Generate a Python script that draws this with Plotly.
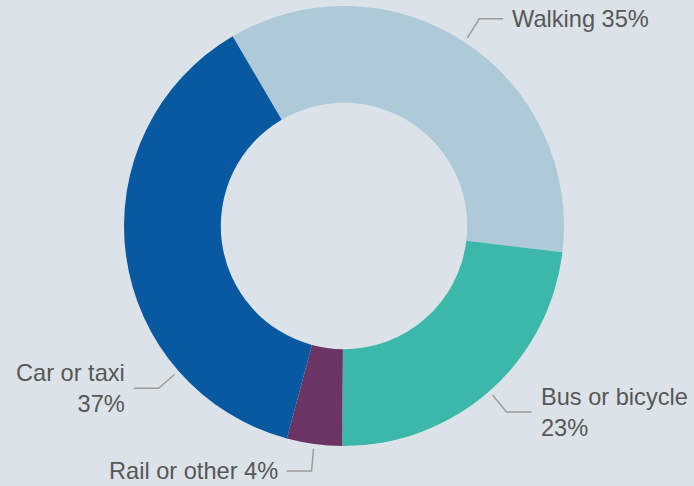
import math
import plotly.graph_objects as go

# Share of trips by main travel mode
modes = ["Walking", "Bus or bicycle", "Rail or other", "Car or taxi"]
shares = [35, 23, 4, 37]
colors = ["#aecad9", "#3bb8a9", "#6c3464", "#0959a0"]

# Canvas and donut geometry (pixels)
W, H = 694, 486
CX, CY, R = 344, 226, 220
HOLE = 0.56
START = -30.4          # first slice starts this many degrees from 12 o'clock
BG = "#dce3e8"
TEXT = "#575757"
LEADER = "#9c9c9c"
FONT = "Arial, Liberation Sans, sans-serif"
GAP = 7                # space between leader end and label text

# Leader-line styling per label: optional anchor angle override,
# elbow offset from the ring, horizontal run, line break in label
label_style = [
    dict(anchor=None, elbow=(12, -19), run=24, wrap=False),
    dict(anchor=None, elbow=(14, 17), run=25, wrap=True),
    dict(anchor=None, elbow=(-2, 22), run=-25, wrap=False),
    dict(anchor=228.8, elbow=(-16, 14), run=-25, wrap=True),
]


def px(x):
    return x / W


def py(y):
    return 1 - y / H


fig = go.Figure(
    go.Pie(
        labels=modes,
        values=shares,
        sort=False,
        direction="clockwise",
        rotation=START,
        hole=HOLE,
        marker=dict(colors=colors, line=dict(width=0)),
        textinfo="none",
        hoverinfo="label+percent",
        showlegend=False,
        domain=dict(x=[px(CX - R), px(CX + R)], y=[py(CY + R), py(CY - R)]),
    )
)

total = sum(shares)
cum = 0
annotations = []
shapes = []
for mode, val, st in zip(modes, shares, label_style):
    mid = START + 360 * (cum + val / 2) / total
    cum += val
    ang = math.radians(st["anchor"] if st["anchor"] is not None else mid)
    r0 = R + 5
    x0 = CX + r0 * math.sin(ang)
    y0 = CY - r0 * math.cos(ang)
    x1 = x0 + st["elbow"][0]
    y1 = y0 + st["elbow"][1]
    x2 = x1 + st["run"]
    shapes.append(dict(
        type="path", xref="paper", yref="paper",
        path=f"M {px(x0)} {py(y0)} L {px(x1)} {py(y1)} L {px(x2)} {py(y1)}",
        line=dict(color=LEADER, width=1.5),
    ))
    sep = "<br>" if st["wrap"] else " "
    right = st["run"] > 0
    annotations.append(dict(
        text=f"{mode}{sep}{val}%",
        xref="paper", yref="paper",
        x=px(x2 + (GAP if right else -GAP)), y=py(y1),
        xanchor="left" if right else "right",
        yanchor="middle",
        align="left" if right else "right",
        showarrow=False,
        font=dict(family=FONT, size=23.6, color=TEXT),
    ))

fig.update_layout(
    width=W, height=H,
    margin=dict(l=0, r=0, t=0, b=0),
    paper_bgcolor=BG, plot_bgcolor=BG,
    shapes=shapes,
    annotations=annotations,
)

fig.write_html("out.html")
